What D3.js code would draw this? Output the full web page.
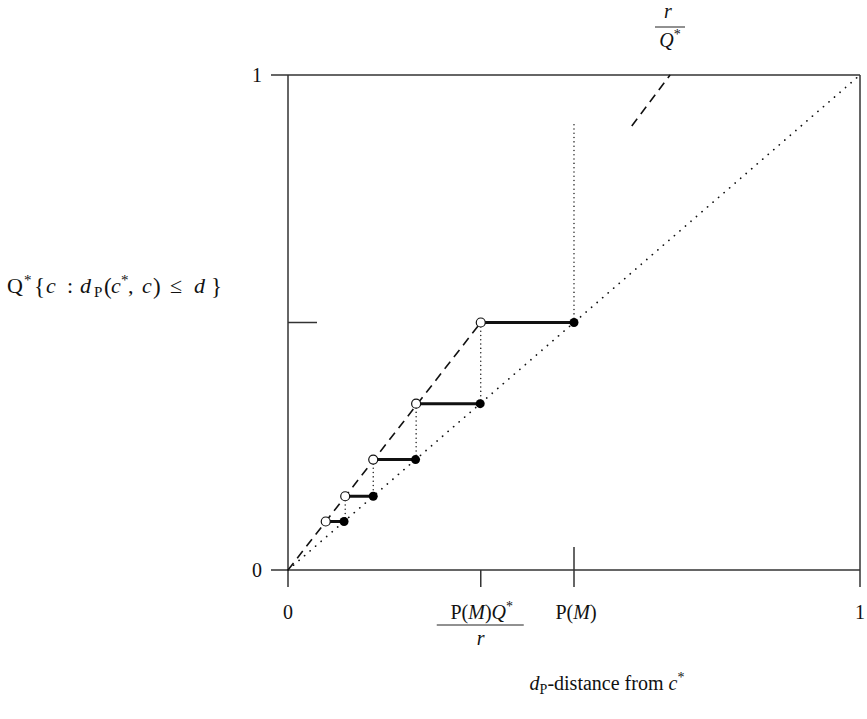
<!DOCTYPE html>
<html>
<head>
<meta charset="utf-8">
<script src="https://cdn.jsdelivr.net/npm/d3@7"></script>
<style>
  body { margin: 0; background: #fff; }
  svg { display: block; }
  text { font-family: "Liberation Serif", "DejaVu Serif", serif; fill: #111; }
  .frame { stroke: #333; stroke-width: 1.5; fill: none; }
</style>
</head>
<body>
<svg id="chart"></svg>
<script>
var w = 867;
var h = 719;

// step levels (filled dots sit on the diagonal) and the open dots on the dashed line
var levels = [0.5, 0.336, 0.223, 0.149, 0.098];
var openX  = [0.337, 0.224, 0.149, 0.100, 0.066];

// dashed line r/Q* (drawn in two pieces)
var dashA = [[0, 0], [0.337, 0.5]];
var dashB = [[0.601, 0.897], [0.668, 1.0]];

// dotted drop line at P(M)
var pmX = 0.5;
var pmTop = 0.905;

var xTicks = [0, 0.337, 0.5, 1];
var yTicks = [0, 0.5, 1];

var svg = d3.select("#chart")
    .attr("width", w)
    .attr("height", h);

var x = d3.scaleLinear().domain([0, 1]).range([288, 860]);
var y = d3.scaleLinear().domain([0, 1]).range([570, 75]);

var line = d3.line()
    .x(function(d) { return x(d[0]); })
    .y(function(d) { return y(d[1]); });

// frame: axes overshoot the corners a little
var ext = 17;
svg.append("line").attr("class", "frame")
    .attr("x1", x(0) - ext).attr("x2", x(1)).attr("y1", y(0)).attr("y2", y(0));
svg.append("line").attr("class", "frame")
    .attr("x1", x(0) - ext).attr("x2", x(1)).attr("y1", y(1)).attr("y2", y(1));
svg.append("line").attr("class", "frame")
    .attr("x1", x(0)).attr("x2", x(0)).attr("y1", y(1)).attr("y2", y(0) + ext);
svg.append("line").attr("class", "frame")
    .attr("x1", x(1)).attr("x2", x(1)).attr("y1", y(1)).attr("y2", y(0) + ext);

// inner ticks
svg.append("line").attr("class", "frame")
    .attr("x1", x(0)).attr("x2", x(0) + 29).attr("y1", y(yTicks[1])).attr("y2", y(yTicks[1]));
svg.append("line").attr("class", "frame")
    .attr("x1", x(xTicks[1])).attr("x2", x(xTicks[1])).attr("y1", y(0)).attr("y2", y(0) + ext);
svg.append("line").attr("class", "frame")
    .attr("x1", x(xTicks[2])).attr("x2", x(xTicks[2])).attr("y1", y(0) - 23).attr("y2", y(0) + ext);

// diagonal, dotted
svg.append("path")
    .attr("d", line([[0, 0], [1, 1]]))
    .attr("fill", "none")
    .attr("stroke", "#111")
    .attr("stroke-width", 1.7)
    .attr("stroke-linecap", "round")
    .attr("stroke-dasharray", "0.1 7.2");

// dashed r/Q* line
[dashA, dashB].forEach(function(seg) {
  svg.append("path")
      .attr("d", line(seg))
      .attr("fill", "none")
      .attr("stroke", "#111")
      .attr("stroke-width", 1.6)
      .attr("stroke-dasharray", "9 6");
});

// vertical dotted drops
var drops = [[[pmX, levels[0]], [pmX, pmTop]]];
for (var i = 0; i < levels.length - 1; i++) {
  drops.push([[openX[i], levels[i]], [openX[i], levels[i + 1]]]);
}
svg.selectAll(".drop")
    .data(drops)
    .enter()
    .append("path")
    .attr("class", "drop")
    .attr("d", line)
    .attr("fill", "none")
    .attr("stroke", "#111")
    .attr("stroke-width", 1.4)
    .attr("stroke-linecap", "round")
    .attr("stroke-dasharray", "0.1 4.2");

// thick steps
svg.selectAll(".step")
    .data(levels)
    .enter()
    .append("line")
    .attr("class", "step")
    .attr("x1", function(d, i) { return x(openX[i]); })
    .attr("x2", function(d) { return x(d); })
    .attr("y1", function(d) { return y(d); })
    .attr("y2", function(d) { return y(d); })
    .attr("stroke", "#111")
    .attr("stroke-width", 3);

svg.selectAll(".closed")
    .data(levels)
    .enter()
    .append("circle")
    .attr("class", "closed")
    .attr("cx", function(d) { return x(d); })
    .attr("cy", function(d) { return y(d); })
    .attr("r", 4.5)
    .attr("fill", "#000");

svg.selectAll(".open")
    .data(levels)
    .enter()
    .append("circle")
    .attr("class", "open")
    .attr("cx", function(d, i) { return x(openX[i]); })
    .attr("cy", function(d) { return y(d); })
    .attr("r", 4.5)
    .attr("fill", "#fff")
    .attr("stroke", "#111")
    .attr("stroke-width", 1.2);

// tick labels
var fs = 20;
var sup = "14px";
svg.append("text").attr("x", x(0)).attr("y", 619).attr("text-anchor", "middle")
    .style("font-size", fs + "px").text("0");
svg.append("text").attr("x", x(1)).attr("y", 619).attr("text-anchor", "middle")
    .style("font-size", fs + "px").text("1");
svg.append("text").attr("x", x(0) - 31).attr("y", y(0) + 7).attr("text-anchor", "middle")
    .style("font-size", fs + "px").text("0");
svg.append("text").attr("x", x(0) - 31).attr("y", y(1) + 7).attr("text-anchor", "middle")
    .style("font-size", fs + "px").text("1");

function pm(sel) {
  sel.append("tspan").text("P(");
  sel.append("tspan").style("font-style", "italic").text("M");
  sel.append("tspan").text(")");
}

var pmLab = svg.append("text").attr("x", x(0.5) + 2).attr("y", 619)
    .attr("text-anchor", "middle").style("font-size", fs + "px");
pm(pmLab);

var frac = svg.append("text").attr("x", x(xTicks[1]) + 1).attr("y", 619)
    .attr("text-anchor", "middle").style("font-size", fs + "px");
pm(frac);
frac.append("tspan").style("font-style", "italic").text("Q");
frac.append("tspan").attr("dy", -8).style("font-size", sup).text("*");
svg.append("line").attr("x1", x(xTicks[1]) - 44).attr("x2", x(xTicks[1]) + 43)
    .attr("y1", 625).attr("y2", 625).attr("stroke", "#222").attr("stroke-width", 1);
svg.append("text").attr("x", x(xTicks[1])).attr("y", 645).attr("text-anchor", "middle")
    .style("font-size", fs + "px").style("font-style", "italic").text("r");

// r / Q* label at top
svg.append("text").attr("x", 668).attr("y", 18).attr("text-anchor", "middle")
    .style("font-size", fs + "px").style("font-style", "italic").text("r");
svg.append("line").attr("x1", 655).attr("x2", 685).attr("y1", 27).attr("y2", 27)
    .attr("stroke", "#222").attr("stroke-width", 1);
var q = svg.append("text").attr("x", 670).attr("y", 47).attr("text-anchor", "middle")
    .style("font-size", fs + "px");
q.append("tspan").style("font-style", "italic").text("Q");
q.append("tspan").attr("dy", -8).style("font-size", sup).text("*");

// x axis title
var xt = svg.append("text").attr("x", 607).attr("y", 690).attr("text-anchor", "middle")
    .style("font-size", fs + "px");
xt.append("tspan").style("font-style", "italic").text("d");
xt.append("tspan").attr("dy", 4).style("font-size", sup).text("P");
xt.append("tspan").attr("dy", -4).text("-distance from ");
xt.append("tspan").style("font-style", "italic").text("c");
xt.append("tspan").attr("dy", -8).style("font-size", sup).text("*");

// y axis title, glyphs placed one by one to get the wide math spacing
var base = 293;
var yParts = [
  { t: "Q", x: 7, it: false },
  { t: "*", x: 24, it: false, sup: true },
  { t: "{", x: 34, it: false, big: true },
  { t: "c", x: 46, it: true },
  { t: ":", x: 67, it: false },
  { t: "d", x: 80, it: true },
  { t: "P", x: 94, it: false, sub: true },
  { t: "(", x: 104, it: false, big: true },
  { t: "c", x: 111, it: true },
  { t: "*", x: 121, it: false, sup: true },
  { t: ",", x: 128, it: false },
  { t: "c", x: 142, it: true },
  { t: ")", x: 153, it: false, big: true },
  { t: "\u2264", x: 170, it: false },
  { t: "d", x: 194, it: true },
  { t: "}", x: 211, it: false, big: true }
];
svg.selectAll(".ylab")
    .data(yParts)
    .enter()
    .append("text")
    .attr("class", "ylab")
    .attr("x", function(d) { return d.x; })
    .attr("y", function(d) { return d.sup ? base - 8 : d.sub ? base + 4 : d.big ? base + 1 : base; })
    .style("font-size", function(d) { return d.sup || d.sub ? "15px" : d.big ? "23px" : "22px"; })
    .style("font-style", function(d) { return d.it ? "italic" : "normal"; })
    .text(function(d) { return d.t; });
</script>
</body>
</html>
